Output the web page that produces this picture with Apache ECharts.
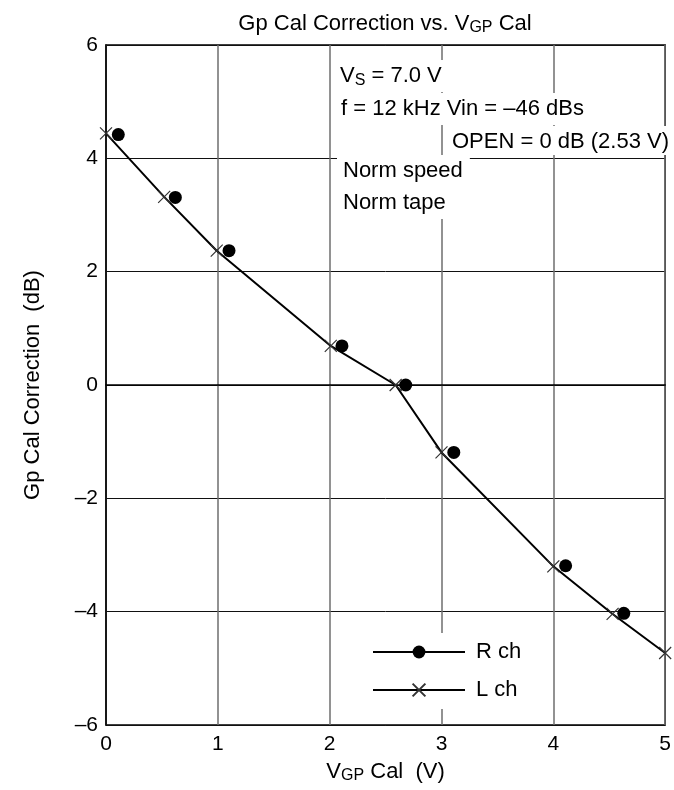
<!DOCTYPE html>
<html>
<head>
<meta charset="utf-8">
<script src="https://cdn.jsdelivr.net/npm/echarts@6/dist/echarts.min.js"></script>
<style>
html,body{margin:0;padding:0;background:#fff;}
#chart{width:674px;height:790px;}
</style>
</head>
<body>
<div id="chart"></div>
<script>
// ---- data ----
var lChX = [0, 0.52, 0.99, 2.01, 2.59, 3.0, 4.0, 4.53, 5.0];
var lChY = [4.44, 3.32, 2.37, 0.69, 0.0, -1.19, -3.2, -4.04, -4.73];
var rChX = [0.11, 0.62, 1.1, 2.11, 2.68, 3.11, 4.11, 4.63];
var rChY = [4.42, 3.31, 2.37, 0.69, 0.0, -1.19, -3.19, -4.03];
var xTicks = [0, 1, 2, 3, 4, 5];
var yTicks = [-6, -4, -2, 0, 2, 4, 6];
var seriesNames = ['R ch', 'L ch'];
var notes = ['f = 12 kHz Vin = \u201346 dBs', 'OPEN = 0 dB (2.53 V)', 'Norm speed', 'Norm tape'];

function pairs(xs, ys) { return xs.map(function (x, i) { return [x, ys[i]]; }); }

var FONT = 'Liberation Sans, Arial, Helvetica, sans-serif';
var crossPath = 'path://M0,0L10,10M10,0L0,10';

var chart = echarts.init(document.getElementById('chart'), null, {renderer: 'canvas'});
var option = {
  animation: false,
  backgroundColor: '#fff',
  textStyle: {fontFamily: FONT, color: '#000'},
  title: {
    text: '{a|Gp Cal Correction vs. V}{s|GP}{a| Cal}',
    left: 380, top: 6, textAlign: 'center',
    textStyle: {
      fontWeight: 'normal',
      rich: {
        a: {fontSize: 22, fontFamily: FONT, color: '#000'},
        s: {fontSize: 16, fontFamily: FONT, color: '#000', padding: [9, 0, 0, 0]}
      }
    }
  },
  grid: {left: 106, right: 6, top: 45, bottom: 65, show: true, borderColor: '#000', borderWidth: 1.5, backgroundColor: 'transparent'},
  xAxis: {
    type: 'value', min: xTicks[0], max: xTicks[xTicks.length - 1], interval: 1,
    axisLine: {show: true, lineStyle: {color: '#000', width: 1.5}},
    axisTick: {show: false},
    splitLine: {show: true, lineStyle: {color: '#6e6e6e', width: 1.5}},
    axisLabel: {fontSize: 21, color: '#000', margin: 9, fontFamily: FONT},
    name: '{a|V}{s|GP}{a| Cal  (V)}',
    nameLocation: 'middle', nameGap: 34,
    nameTextStyle: {
      rich: {
        a: {fontSize: 22, fontFamily: FONT, color: '#000'},
        s: {fontSize: 16, fontFamily: FONT, color: '#000', padding: [9, 0, 0, 0]}
      }
    }
  },
  yAxis: {
    type: 'value', min: yTicks[0], max: yTicks[yTicks.length - 1], interval: 2,
    axisLine: {show: true, lineStyle: {color: '#000', width: 1.5}},
    axisTick: {show: false},
    splitLine: {show: true, lineStyle: {color: '#111', width: 1}},
    axisLabel: {
      fontSize: 21, color: '#000', margin: 8, fontFamily: FONT, padding: [7, 0, 0, 0],
      formatter: function (v) { return v < 0 ? '\u2013' + Math.abs(v) : String(v); }
    },
    name: 'Gp Cal Correction  (dB)', nameLocation: 'middle', nameGap: 62, nameRotate: 90,
    nameTextStyle: {fontSize: 22, color: '#000', fontFamily: FONT}
  },
  legend: {
    orient: 'vertical', left: 362, top: 633,
    backgroundColor: '#fff', padding: [8, 12, 8, 10],
    itemWidth: 92, itemHeight: 16, itemGap: 16,
    textStyle: {fontSize: 22, color: '#000', fontFamily: FONT, padding: [0, 0, 0, 6]},
    data: [
      {name: seriesNames[0], lineStyle: {color: '#000', width: 2, opacity: 1}},
      {name: seriesNames[1], lineStyle: {color: '#000', width: 2, opacity: 1}}
    ]
  },
  graphic: [
    {type: 'text', left: 334, top: 60, z: 100, style: {
      text: '{a|V}{s|S}{a| = 7.0 V}', backgroundColor: '#fff', padding: [4, 8, 4, 6],
      rich: {
        a: {fontSize: 22, fontFamily: FONT, fill: '#000', lineHeight: 24},
        s: {fontSize: 16, fontFamily: FONT, fill: '#000', lineHeight: 24, padding: [9, 0, 0, 0]}
      }
    }},
    {type: 'text', left: 335, top: 93, z: 100, style: {text: notes[0], font: '22px ' + FONT, fill: '#000', backgroundColor: '#fff', padding: [4, 6, 4, 6], lineHeight: 24}},
    {type: 'text', left: 446, top: 126, z: 100, style: {text: notes[1], font: '22px ' + FONT, fill: '#000', backgroundColor: '#fff', padding: [4, 0, 1, 6], lineHeight: 24}},
    {type: 'text', left: 337, top: 155, z: 100, style: {text: notes[2], font: '22px ' + FONT, fill: '#000', backgroundColor: '#fff', padding: [4, 7, 4, 6], lineHeight: 24}},
    {type: 'text', left: 337, top: 187, z: 100, style: {text: notes[3], font: '22px ' + FONT, fill: '#000', backgroundColor: '#fff', padding: [4, 7, 4, 6], lineHeight: 24}}
  ],
  series: [
    {
      name: seriesNames[0], type: 'line', data: pairs(rChX, rChY),
      symbol: 'circle', symbolSize: 13, clip: false,
      lineStyle: {width: 0, opacity: 0, color: '#000'},
      itemStyle: {color: '#000'},
      z: 3
    },
    {
      name: seriesNames[1], type: 'line', data: pairs(lChX, lChY),
      symbol: crossPath, symbolSize: 12, clip: false,
      lineStyle: {width: 2, color: '#000'},
      itemStyle: {color: 'rgba(0,0,0,0)', borderColor: '#333', borderWidth: 1.2},
      z: 3
    }
  ]
};
chart.setOption(option);
</script>
</body>
</html>
